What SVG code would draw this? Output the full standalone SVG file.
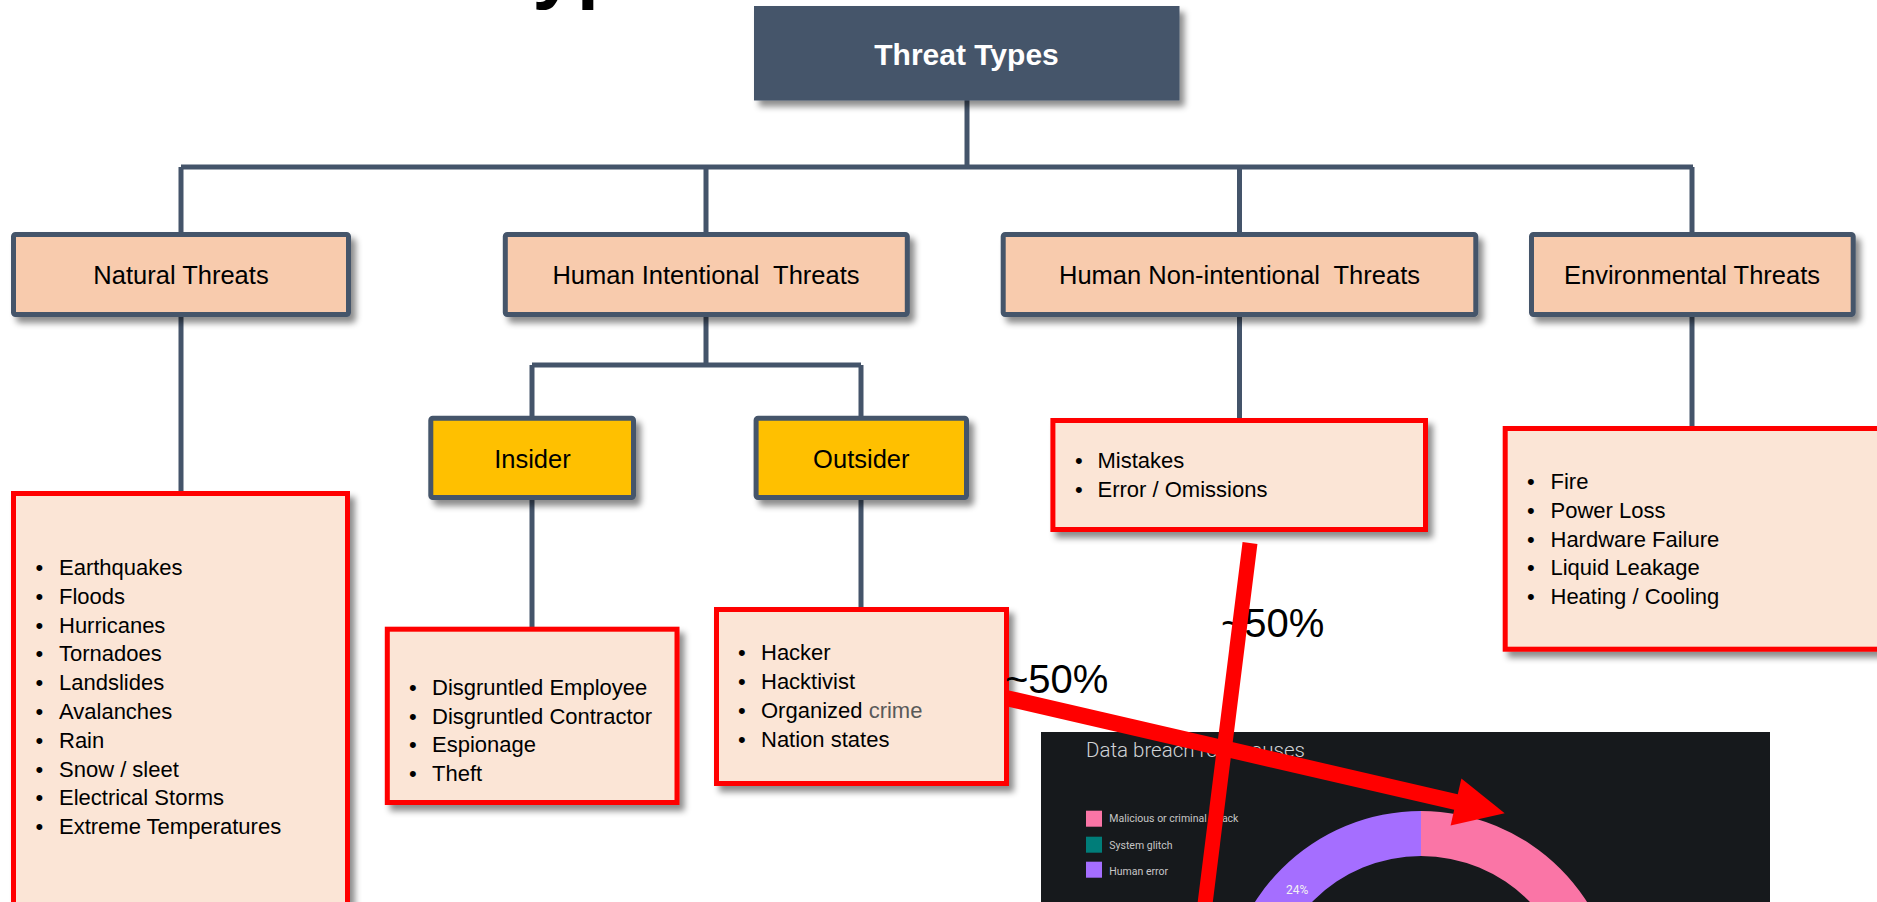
<svg xmlns="http://www.w3.org/2000/svg" width="1877" height="902" viewBox="0 0 1877 902">
<defs>
<filter id="sh" x="-10%" y="-10%" width="130%" height="140%">
<feDropShadow dx="5" dy="6" stdDeviation="3" flood-color="#000" flood-opacity="0.45"/>
</filter>
<style>
.t{font-family:"Liberation Sans",Arial,sans-serif;fill:#000}
.lbl{font-size:25.5px;text-anchor:middle}
.li{font-size:22px}
.cat{fill:#F8CBAD;stroke:#44546A;stroke-width:5}
.sub{fill:#FFC000;stroke:#44546A;stroke-width:5}
.lst{fill:#FBE5D6;stroke:#FF0000;stroke-width:5}
.con{fill:none;stroke:#44546A;stroke-width:5}
.red{stroke:#FF0000;fill:none}
.pct{font-family:"Liberation Sans",Arial,sans-serif;font-size:40px;fill:#000}
.leg{font-family:Roboto,"Liberation Sans",sans-serif;font-size:10.5px;fill:#C6C6C6}
</style>
</defs>
<rect width="1877" height="902" fill="#FFFFFF"/>
<text class="t" x="222.6" y="-7" font-size="80" font-weight="bold">Threat Types</text>

<g id="connectors">
<path class="con" d="M967 100 V167 M181 167 H1693 M181 167 V235 M706 167 V235 M1239.5 167 V235 M1692 167 V235"/>
<path class="con" d="M706 316 V365 M532 365 H861 M532 365 V418 M861 365 V418"/>
<path class="con" d="M181 316 V493 M532 500 V629 M861 500 V609 M1239.5 316 V420 M1692 316 V428"/>
</g>

<g id="threat-types">
<rect x="754" y="6" width="425.5" height="94.5" fill="#44546A" filter="url(#sh)"/>
<text class="t" x="966.5" y="65" font-size="30" font-weight="bold" text-anchor="middle" fill="#FFFFFF" style="fill:#FFFFFF">Threat Types</text>
</g>

<g id="natural-threats">
<rect class="cat" x="13.5" y="234.5" width="335" height="80" rx="2" filter="url(#sh)"/>
<text class="t lbl" x="181" y="283.5">Natural Threats</text>
</g>
<g id="human-intentional">
<rect class="cat" x="505.3" y="234.5" width="402" height="80" rx="2" filter="url(#sh)"/>
<text class="t lbl" x="706" y="283.5" xml:space="preserve">Human Intentional  Threats</text>
</g>
<g id="human-nonintentional">
<rect class="cat" x="1003.2" y="234.5" width="472.6" height="80" rx="2" filter="url(#sh)"/>
<text class="t lbl" x="1239.5" y="283.5" xml:space="preserve">Human Non-intentional  Threats</text>
</g>
<g id="environmental">
<rect class="cat" x="1531.5" y="234.5" width="321.7" height="80" rx="2" filter="url(#sh)"/>
<text class="t lbl" x="1692" y="283.5">Environmental Threats</text>
</g>

<g id="insider">
<rect class="sub" x="430.8" y="418.2" width="202.7" height="79.3" rx="2" filter="url(#sh)"/>
<text class="t lbl" x="532.4" y="467.7">Insider</text>
</g>
<g id="outsider">
<rect class="sub" x="756.1" y="418.2" width="210.4" height="79.3" rx="2" filter="url(#sh)"/>
<text class="t lbl" x="861.3" y="468">Outsider</text>
</g>

<g id="natural-list">
<rect class="lst" x="13.5" y="493.5" width="334" height="430" filter="url(#sh)"/>
<text class="t li" y="575"><tspan x="35.5">•</tspan><tspan x="59">Earthquakes</tspan></text>
<text class="t li" y="603.8"><tspan x="35.5">•</tspan><tspan x="59">Floods</tspan></text>
<text class="t li" y="632.6"><tspan x="35.5">•</tspan><tspan x="59">Hurricanes</tspan></text>
<text class="t li" y="661.4"><tspan x="35.5">•</tspan><tspan x="59">Tornadoes</tspan></text>
<text class="t li" y="690.2"><tspan x="35.5">•</tspan><tspan x="59">Landslides</tspan></text>
<text class="t li" y="719"><tspan x="35.5">•</tspan><tspan x="59">Avalanches</tspan></text>
<text class="t li" y="747.8"><tspan x="35.5">•</tspan><tspan x="59">Rain</tspan></text>
<text class="t li" y="776.6"><tspan x="35.5">•</tspan><tspan x="59">Snow / sleet</tspan></text>
<text class="t li" y="805.4"><tspan x="35.5">•</tspan><tspan x="59">Electrical Storms</tspan></text>
<text class="t li" y="834.2"><tspan x="35.5">•</tspan><tspan x="59">Extreme Temperatures</tspan></text>
</g>

<g id="insider-list">
<rect class="lst" x="387.3" y="629.2" width="289.7" height="173.3" filter="url(#sh)"/>
<text class="t li" y="695"><tspan x="409">•</tspan><tspan x="432">Disgruntled Employee</tspan></text>
<text class="t li" y="723.7"><tspan x="409">•</tspan><tspan x="432">Disgruntled Contractor</tspan></text>
<text class="t li" y="752.4"><tspan x="409">•</tspan><tspan x="432">Espionage</tspan></text>
<text class="t li" y="781.1"><tspan x="409">•</tspan><tspan x="432">Theft</tspan></text>
</g>

<g id="outsider-list">
<rect class="lst" x="716.5" y="609.5" width="290" height="174" filter="url(#sh)"/>
<text class="t li" y="660"><tspan x="738">•</tspan><tspan x="761">Hacker</tspan></text>
<text class="t li" y="689"><tspan x="738">•</tspan><tspan x="761">Hacktivist</tspan></text>
<text class="t li" y="718"><tspan x="738">•</tspan><tspan x="761">Organized <tspan fill="#595959" style="fill:#595959">crime</tspan></tspan></text>
<text class="t li" y="747"><tspan x="738">•</tspan><tspan x="761">Nation states</tspan></text>
</g>

<g id="nonintentional-list">
<rect class="lst" x="1052.9" y="420.5" width="372.6" height="109" filter="url(#sh)"/>
<text class="t li" y="468.3"><tspan x="1075">•</tspan><tspan x="1097.5">Mistakes</tspan></text>
<text class="t li" y="497"><tspan x="1075">•</tspan><tspan x="1097.5">Error / Omissions</tspan></text>
</g>

<g id="environmental-list">
<rect class="lst" x="1505.2" y="428.5" width="400" height="220.7" filter="url(#sh)"/>
<text class="t li" y="489.3"><tspan x="1527">•</tspan><tspan x="1550.5">Fire</tspan></text>
<text class="t li" y="518"><tspan x="1527">•</tspan><tspan x="1550.5">Power Loss</tspan></text>
<text class="t li" y="546.7"><tspan x="1527">•</tspan><tspan x="1550.5">Hardware Failure</tspan></text>
<text class="t li" y="575.4"><tspan x="1527">•</tspan><tspan x="1550.5">Liquid Leakage</tspan></text>
<text class="t li" y="604.1"><tspan x="1527">•</tspan><tspan x="1550.5">Heating / Cooling</tspan></text>
</g>

<g id="data-breach-panel">
<rect x="1041" y="732" width="729" height="180" fill="#16191C"/>
<text x="1086" y="757.3" font-family="Roboto,'Liberation Sans',sans-serif" font-weight="300" font-size="20.5" fill="#D0D3D6">Data breach root causes</text>
<rect x="1086" y="810.7" width="16" height="16" fill="#FA75A6"/>
<rect x="1086" y="836.7" width="16" height="16" fill="#007D79"/>
<rect x="1086" y="861.7" width="16" height="16" fill="#A56EFF"/>
<text class="leg" x="1109.3" y="821.7">Malicious or criminal attack</text>
<text class="leg" x="1109.3" y="849.3">System glitch</text>
<text class="leg" x="1109.3" y="875">Human error</text>
<path d="M1421 811 A197 197 0 0 1 1618 1008 L1573 1008 A152 152 0 0 0 1421 856 Z" fill="#FA75A6"/>
<path d="M1421 811 A197 197 0 0 0 1224 1008 L1269 1008 A152 152 0 0 1 1421 856 Z" fill="#A56EFF"/>
<text x="1286" y="894" font-family="Roboto,'Liberation Sans',sans-serif" font-size="12" fill="#F2F2F2">24%</text>
</g>

<g id="annotations">
<text class="pct" x="1005" y="693.3">~50%</text>
<text class="pct" x="1221" y="637">~50%</text>
<line class="red" x1="1250" y1="543" x2="1204" y2="912" stroke-width="15"/>
<line class="red" x1="1006" y1="698" x2="1458" y2="802.5" stroke-width="16"/>
<polygon points="1504.7,813.3 1461.4,778.6 1450.6,825.4" fill="#FF0000"/>
</g>
</svg>
